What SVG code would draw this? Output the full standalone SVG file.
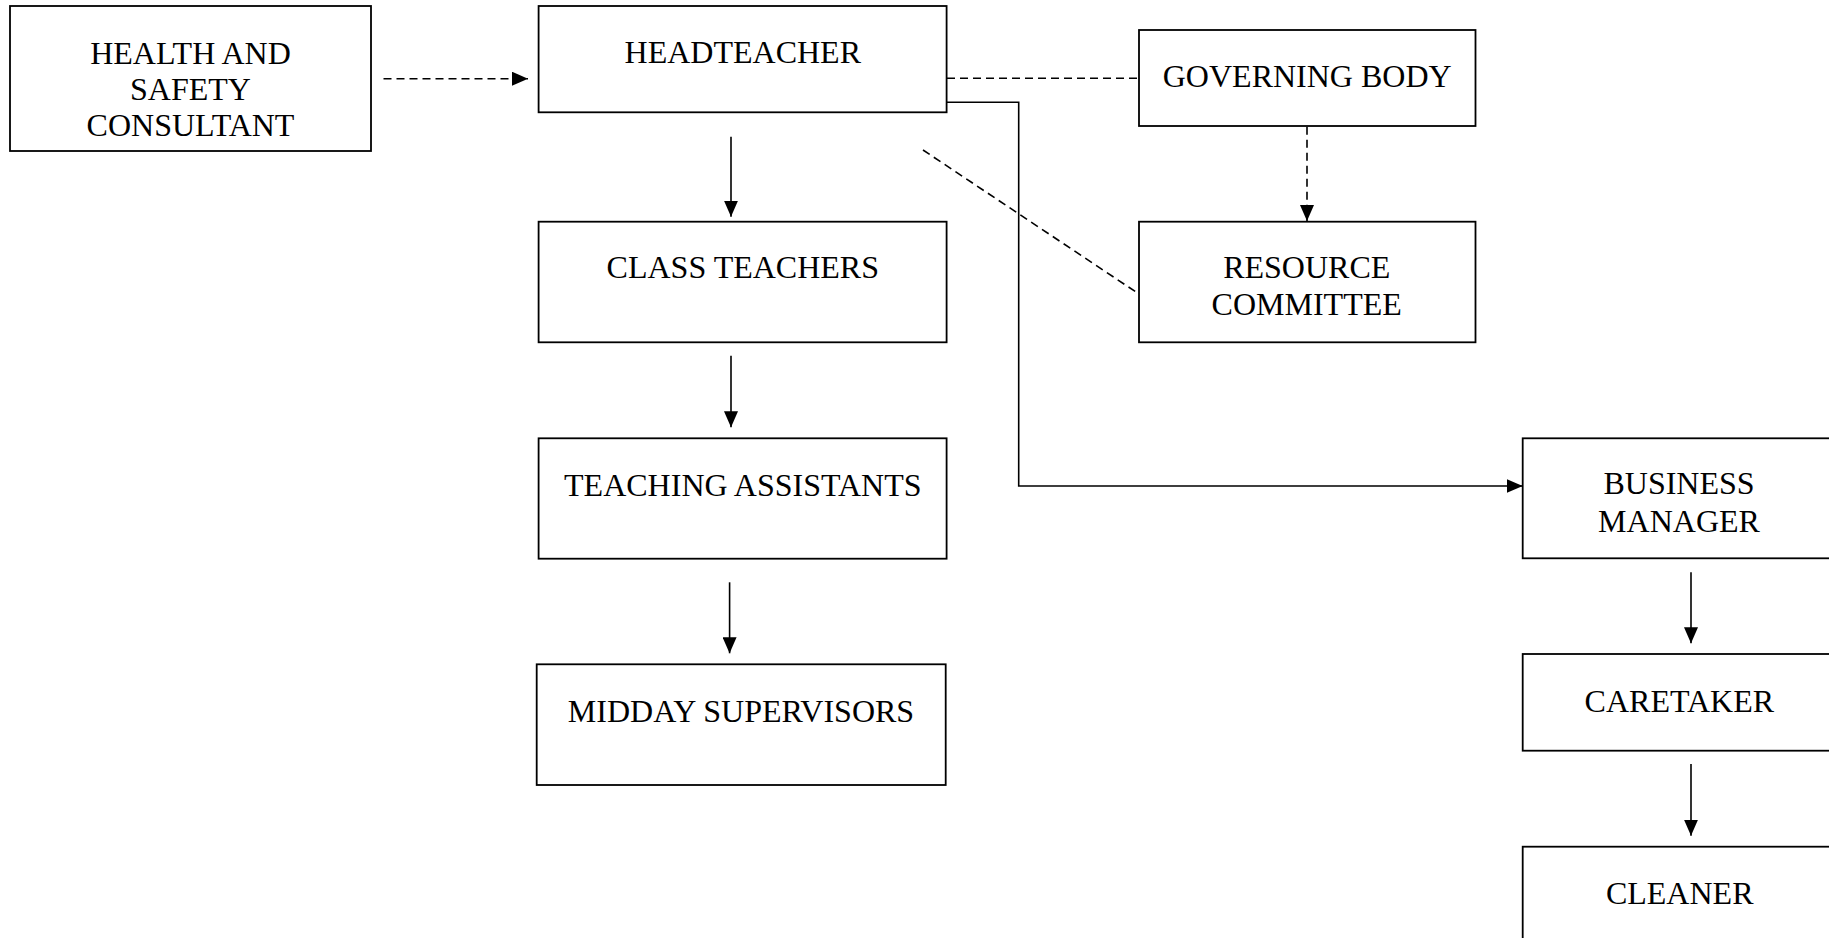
<svg xmlns="http://www.w3.org/2000/svg" width="1829" height="938" viewBox="0 0 1829 938">
<style>
.box{fill:#fff;stroke:#000;stroke-width:1.8}
.t{font-family:"Liberation Serif","Times New Roman",serif;font-size:32px;fill:#000;text-anchor:middle}
.c{fill:none;stroke:#000;stroke-width:1.6}
.d{stroke-dasharray:8 5}
</style>
<defs>
<marker id="ah" markerUnits="userSpaceOnUse" markerWidth="16" markerHeight="14" refX="16" refY="7" orient="auto">
<path d="M0,0 L16,7 L0,14 z" fill="#000"/>
</marker>
</defs>
<rect width="1829" height="938" fill="#fff"/>
<g id="connectors">
<line class="c d" x1="383.5" y1="78.7" x2="528" y2="78.7" marker-end="url(#ah)"/>
<line class="c d" x1="947" y1="78.3" x2="1139" y2="78.3"/>
<polyline class="c" points="947,102.3 1018.7,102.3 1018.7,486 1522.7,486" marker-end="url(#ah)"/>
<line class="c" x1="731" y1="136.7" x2="731" y2="216.7" marker-end="url(#ah)"/>
<line class="c" x1="731" y1="355.7" x2="731" y2="427.3" marker-end="url(#ah)"/>
<line class="c" x1="729.6" y1="582.3" x2="729.6" y2="653.3" marker-end="url(#ah)"/>
<line class="c d" x1="1307" y1="126.7" x2="1307" y2="221" marker-end="url(#ah)"/>
<line class="c d" x1="923" y1="150" x2="1139" y2="294"/>
<line class="c" x1="1691" y1="572.3" x2="1691" y2="643.3" marker-end="url(#ah)"/>
<line class="c" x1="1691" y1="764" x2="1691" y2="835.7" marker-end="url(#ah)"/>
</g>
<g id="health-safety">
<rect class="box" x="10" y="6" width="361" height="145"/>
<text class="t" x="190.5" y="64.3">HEALTH AND</text>
<text class="t" x="190.5" y="100">SAFETY</text>
<text class="t" x="190.5" y="136">CONSULTANT</text>
</g>
<g id="headteacher">
<rect class="box" x="538.6" y="6" width="408" height="106.3"/>
<text class="t" x="742.8" y="63.3">HEADTEACHER</text>
</g>
<g id="governing-body">
<rect class="box" x="1139" y="30" width="336.5" height="96"/>
<text class="t" x="1307.2" y="87.3">GOVERNING BODY</text>
</g>
<g id="class-teachers">
<rect class="box" x="538.6" y="221.7" width="408" height="120.6"/>
<text class="t" x="742.8" y="278.3">CLASS TEACHERS</text>
</g>
<g id="resource-committee">
<rect class="box" x="1139" y="221.7" width="336.5" height="120.6"/>
<text class="t" x="1306.7" y="278.3">RESOURCE</text>
<text class="t" x="1306.7" y="315.3">COMMITTEE</text>
</g>
<g id="teaching-assistants">
<rect class="box" x="538.6" y="438.3" width="408" height="120.4"/>
<text class="t" x="742.8" y="495.7">TEACHING ASSISTANTS</text>
</g>
<g id="midday-supervisors">
<rect class="box" x="536.7" y="664.3" width="409" height="120.7"/>
<text class="t" x="741" y="721.7">MIDDAY SUPERVISORS</text>
</g>
<g id="business-manager">
<rect class="box" x="1522.7" y="438.3" width="320" height="120"/>
<text class="t" x="1679" y="494">BUSINESS</text>
<text class="t" x="1679" y="531.7">MANAGER</text>
</g>
<g id="caretaker">
<rect class="box" x="1522.7" y="654" width="320" height="96.7"/>
<text class="t" x="1679.3" y="711.7">CARETAKER</text>
</g>
<g id="cleaner">
<rect class="box" x="1522.7" y="846.7" width="320" height="120"/>
<text class="t" x="1679.7" y="904">CLEANER</text>
</g>
</svg>
